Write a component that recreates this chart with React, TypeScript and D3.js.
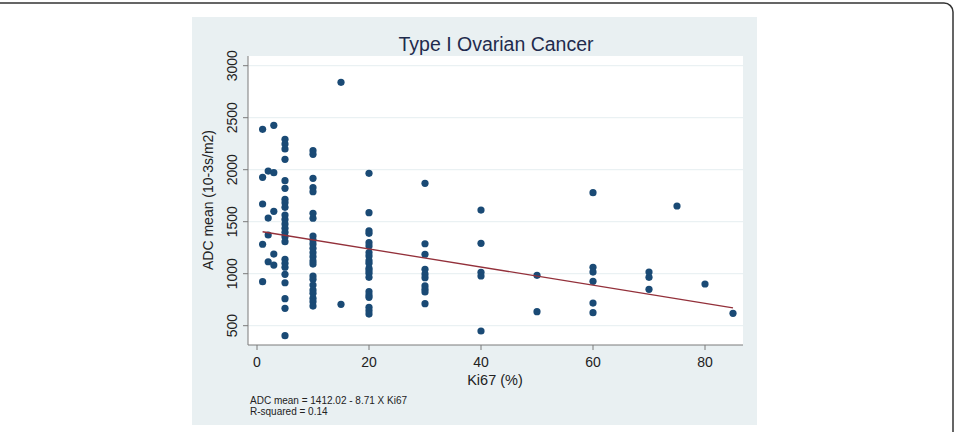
import * as React from 'react';
import * as d3 from 'd3';

// Ki67 (%) groups and the ADC mean values read at each
const KI67 = [1, 2, 3, 5, 10, 15, 20, 30, 40, 50, 60, 70, 75, 80, 85];
const ADC_VALUES: number[][] = [
    [2388, 1927, 1670, 1283, 923],
    [1987, 1535, 1372, 1115],
    [2427, 1971, 1600, 1189, 1083],
    [2292, 2247, 2199, 2100, 1894, 1821, 1715, 1683, 1638, 1564, 1522, 1478, 1436, 1398, 1356, 1308, 1138, 1100, 1062, 994, 913, 760, 667, 404],
    [2183, 2148, 1917, 1827, 1788, 1581, 1533, 1362, 1324, 1286, 1244, 1202, 1163, 1122, 1093, 978, 946, 891, 843, 811, 763, 731, 689],
    [2840, 706],
    [1965, 1587, 1413, 1388, 1298, 1266, 1202, 1170, 1125, 1100, 1052, 1029, 1004, 965, 827, 795, 773, 677, 644, 612],
    [1869, 1288, 1187, 1042, 997, 962, 882, 850, 824, 712],
    [1612, 1292, 1013, 978, 449],
    [984, 635],
    [1779, 1062, 1016, 927, 718, 625],
    [1016, 965, 850],
    [1651],
    [901],
    [619],
];

const X_TICKS = [0, 20, 40, 60, 80];
const Y_TICKS = [500, 1000, 1500, 2000, 2500, 3000];

const FIT_INTERCEPT = 1412.02;
const FIT_SLOPE = -8.71;

const TITLE = 'Type I Ovarian Cancer';
const X_LABEL = 'Ki67 (%)';
const Y_LABEL = 'ADC mean (10-3s/m2)';
const NOTES = ['ADC mean = 1412.02 - 8.71 X Ki67', 'R-squared = 0.14'];

const W = 957;
const H = 432;
const FONT = '"Liberation Sans", Arial, sans-serif';

export default function App() {
    // plot region
    const plot = { left: 248, right: 743, top: 56, bottom: 345 };

    const xScale = d3.scaleLinear().domain([0, 80]).range([257, 705]);
    const yScale = d3.scaleLinear().domain([500, 3000]).range([325.7, 65.7]);

    const points = KI67.flatMap((k, i) => ADC_VALUES[i].map(v => ({ k, v })));

    const fitX = [d3.min(KI67) as number, d3.max(KI67) as number];
    const line = d3.line<number>()
        .x(d => xScale(d))
        .y(d => yScale(FIT_INTERCEPT + FIT_SLOPE * d));

    return (
        <svg width={W} height={H} style={{ position: 'absolute', left: 0, top: 0 }} fontFamily={FONT}>
            <rect x={0} y={0} width={W} height={H} fill="#ffffff" />
            {/* page frame */}
            <rect x={-20} y={3} width={973} height={460} rx={9} fill="none" stroke="#333" strokeWidth={1.5} />

            {/* graph background */}
            <rect x={192} y={17} width={565} height={408} fill="#e9f0f2" />

            {/* plot region */}
            <rect x={plot.left} y={plot.top} width={plot.right - plot.left} height={plot.bottom - plot.top} fill="#ffffff" />

            {/* horizontal grid */}
            {Y_TICKS.map(t => (
                <line key={'g' + t} x1={plot.left} x2={plot.right} y1={yScale(t)} y2={yScale(t)} stroke="#eaf1f3" strokeWidth={1.2} />
            ))}

            {/* axes */}
            <line x1={plot.left} x2={plot.left} y1={plot.top} y2={plot.bottom} stroke="#7a7a7a" strokeWidth={1} />
            <line x1={plot.left} x2={plot.right} y1={plot.bottom} y2={plot.bottom} stroke="#7a7a7a" strokeWidth={1} />

            {Y_TICKS.map(t => (
                <g key={'y' + t}>
                    <line x1={plot.left - 5} x2={plot.left} y1={yScale(t)} y2={yScale(t)} stroke="#7a7a7a" />
                    <text
                        transform={`translate(${plot.left - 11},${yScale(t)}) rotate(-90)`}
                        textAnchor="middle"
                        fontSize={14}
                        fill="#222"
                    >{t}</text>
                </g>
            ))}

            {X_TICKS.map(t => (
                <g key={'x' + t}>
                    <line x1={xScale(t)} x2={xScale(t)} y1={plot.bottom} y2={plot.bottom + 5} stroke="#7a7a7a" />
                    <text x={xScale(t)} y={plot.bottom + 22} textAnchor="middle" fontSize={14} fill="#222">{t}</text>
                </g>
            ))}

            {/* points */}
            {points.map((p, i) => (
                <circle key={i} cx={xScale(p.k)} cy={yScale(p.v)} r={3.6} fill="#1a4a75" />
            ))}

            {/* fitted line */}
            <path d={line(fitX) as string} fill="none" stroke="#93303a" strokeWidth={1.3} />

            {/* titles */}
            <text x={496} y={51} textAnchor="middle" fontSize={19.5} fill="#1f2b4d">{TITLE}</text>
            <text x={495} y={385} textAnchor="middle" fontSize={14.5} fill="#222">{X_LABEL}</text>
            <text transform={`translate(213,200) rotate(-90)`} textAnchor="middle" fontSize={14} fill="#222">{Y_LABEL}</text>

            {NOTES.map((n, i) => (
                <text key={n} x={250} y={404 + i * 11} fontSize={10} fill="#222">{n}</text>
            ))}
        </svg>
    );
}
